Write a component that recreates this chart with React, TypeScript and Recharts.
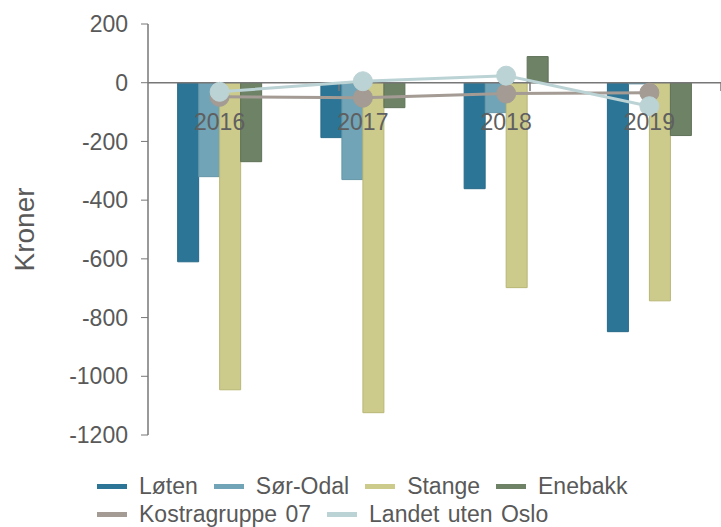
import React from "react";
import {
  ComposedChart,
  Bar,
  Line,
  XAxis,
  YAxis,
  ReferenceLine,
  ReferenceDot,
  Legend,
} from "recharts";

const years = ["2016", "2017", "2018", "2019"];
const loten = [-610, -187, -361, -848];
const sorOdal = [-320, -330, -102, -4];
const stange = [-1046, -1124, -698, -743];
const enebakk = [-269, -85, 89, -180];
const kostra = [-48, -51, -37, -34];
const landet = [-31, 5, 24, -80];
const yTicks = [200, 0, -200, -400, -600, -800, -1000, -1200];

const data = years.map((year, i) => ({
  year,
  loten: loten[i],
  sorOdal: sorOdal[i],
  stange: stange[i],
  enebakk: enebakk[i],
  kostra: kostra[i],
  landet: landet[i],
}));

const FONT = '"Liberation Sans", Arial, sans-serif';
const AXIS = "#777";
const TEXT = "#595959";

const legendRows = [
  [
    { name: "Løten", color: "#2d7596" },
    { name: "Sør-Odal", color: "#71a4b6" },
    { name: "Stange", color: "#cccb8b" },
    { name: "Enebakk", color: "#6e8266" },
  ],
  [
    { name: "Kostragruppe 07", color: "#a39b94" },
    { name: "Landet uten Oslo", color: "#bcd3d5" },
  ],
];

const LegendBox = () => (
  <div style={{ height: 92, paddingLeft: 97, paddingTop: 37, boxSizing: "border-box", fontFamily: FONT }}>
    {legendRows.map((row, r) => (
      <div key={r} style={{ display: "flex", alignItems: "center", height: 28 }}>
        {row.map((it) => (
          <div key={it.name} style={{ display: "flex", alignItems: "center", marginRight: 16 }}>
            <span style={{ display: "inline-block", width: 30, height: 5, background: it.color, marginRight: 12 }} />
            <span style={{ fontSize: 23, color: TEXT, lineHeight: "26px", wordSpacing: 2 }}>{it.name}</span>
          </div>
        ))}
      </div>
    ))}
  </div>
);

export default function App() {
  return (
    <div style={{ position: "absolute", left: 0, top: 0, width: 721, height: 527, background: "#fff", fontFamily: FONT }}>
      <ComposedChart
        width={721}
        height={527}
        data={data}
        margin={{ top: 24, right: 0, left: 0, bottom: 0 }}
        barCategoryGap="20.7%"
        barGap={0}
      >
        <XAxis dataKey="year" hide />
        <XAxis xAxisId="n" type="number" domain={[0, 4]} hide />
        <YAxis
          width={148}
          domain={[-1200, 200]}
          ticks={yTicks}
          interval={0}
          tick={{ fontSize: 23, fill: TEXT, fontFamily: FONT }}
          tickLine={{ stroke: AXIS }}
          tickSize={7}
          tickMargin={13}
          axisLine={{ stroke: AXIS, strokeWidth: 1.5 }}
          label={{
            value: "Kroner",
            angle: -90,
            position: "insideLeft",
            offset: 24,
            style: { textAnchor: "middle", fontSize: 28, fill: TEXT, fontFamily: FONT },
          }}
        />
        <Bar dataKey="loten" name="Løten" fill="#2d7596" stroke="#286a89" strokeWidth={1} isAnimationActive={false} />
        <Bar dataKey="sorOdal" name="Sør-Odal" fill="#71a4b6" stroke="#6496a8" strokeWidth={1} isAnimationActive={false} />
        <Bar dataKey="stange" name="Stange" fill="#cccb8b" stroke="#b8b776" strokeWidth={1} isAnimationActive={false} />
        <Bar dataKey="enebakk" name="Enebakk" fill="#6e8266" stroke="#5f7258" strokeWidth={1} isAnimationActive={false} />
        <ReferenceLine y={0} stroke={AXIS} strokeWidth={1.5} />
        {[1, 2, 3].map((b) => (
          <ReferenceLine
            key={b}
            xAxisId="n"
            segment={[
              { x: b, y: 0 },
              { x: b, y: -28 },
            ]}
            stroke={AXIS}
            strokeWidth={1.5}
          />
        ))}
        {years.map((y) => (
          <ReferenceDot
            key={y}
            x={y}
            y={0}
            r={1}
            fillOpacity={0}
            stroke="none"
            label={{ value: y, position: "bottom", offset: 30, fontSize: 23, fill: "#5f5f5f", fontFamily: FONT }}
          />
        ))}
        <Line
          dataKey="kostra"
          name="Kostragruppe 07"
          stroke="#a39b94"
          strokeWidth={3}
          dot={{ r: 9.5, fill: "#a39b94", stroke: "#a39b94", strokeWidth: 1 }}
          activeDot={false}
          isAnimationActive={false}
        />
        <Line
          dataKey="landet"
          name="Landet uten Oslo"
          stroke="#bcd3d5"
          strokeWidth={3}
          dot={{ r: 9.5, fill: "#bcd3d5", stroke: "#bcd3d5", strokeWidth: 1 }}
          activeDot={false}
          isAnimationActive={false}
        />
        <Legend verticalAlign="bottom" content={<LegendBox />} />
      </ComposedChart>
    </div>
  );
}
